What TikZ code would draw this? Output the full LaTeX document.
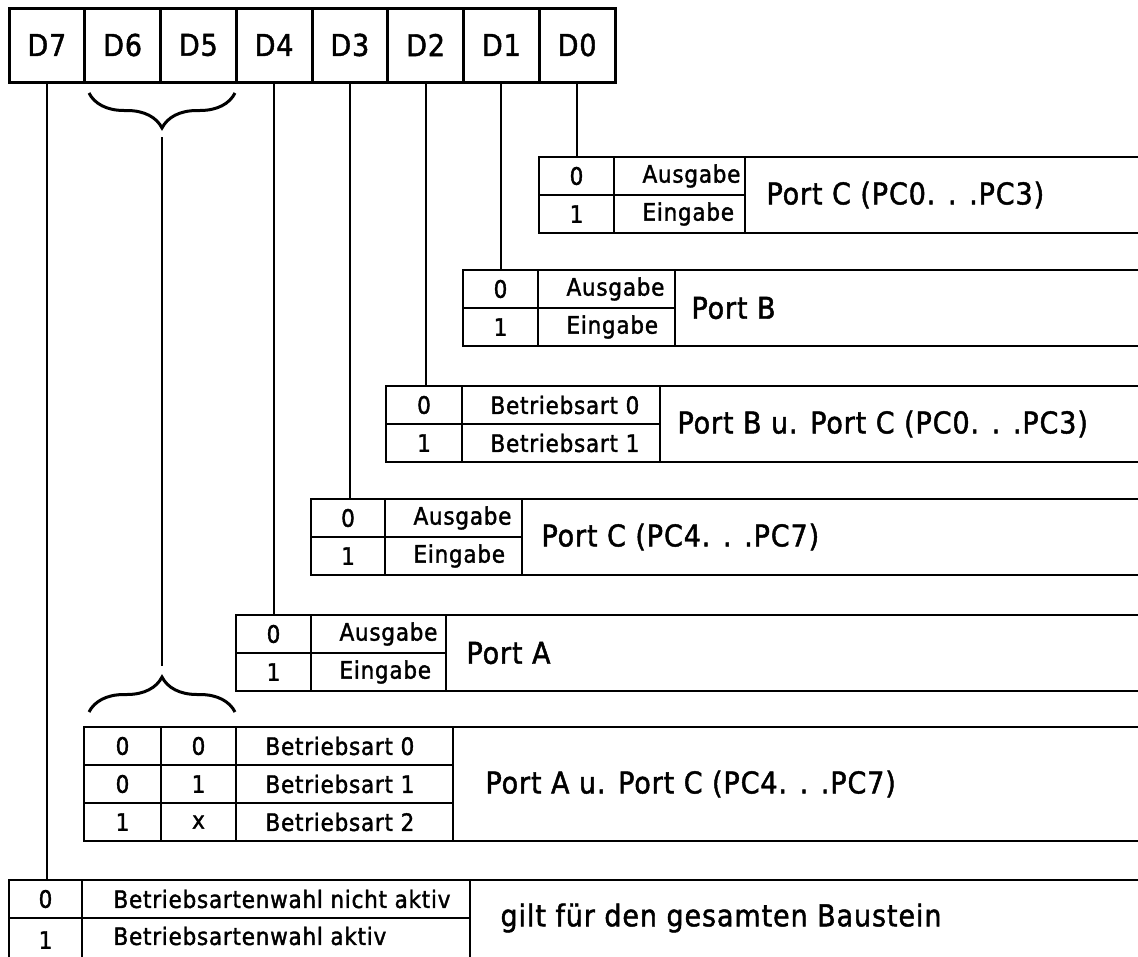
\documentclass[tikz,border=0pt]{standalone}
\usepackage{fontspec}
\setmainfont{DejaVu Sans Condensed}
\newfontfamily\dinfont{DejaVu Sans Condensed}[LetterSpace=3, FakeBold=1.5]
\usetikzlibrary{positioning, calc, decorations.pathreplacing}

\begin{document}
\begin{tikzpicture}[x=1pt, y=-1pt,
    bigtxt/.style={font=\dinfont\fontsize{30}{32}\selectfont},
    smalltxt/.style={font=\dinfont\fontsize{24}{26}\selectfont},
    bitbox/.style={draw, line width=3pt, outer sep=0pt, inner sep=0pt, minimum width=75.75pt, minimum height=74pt, anchor=north west, bigtxt},
    cell/.style={draw, line width=2.8pt, outer sep=0pt, inner sep=0pt, minimum height=38pt, anchor=north west, smalltxt},
    frame/.style={line width=2.8pt},
    wire/.style={line width=2pt},
    curly/.style={line width=3pt, decorate, decoration={brace, amplitude=35pt}}
]
  \path[use as bounding box, fill=white] (0,0) rectangle (1138,956);
  \coordinate (rim) at (1138,0);

  % Steuerwort D7 ... D0
  \foreach \b [count=\k from 0] in {7,6,5,4,3,2,1,0}{
    \node[bitbox] (d\b) at ({9+75.75*\k},8) {D\b};
  }

  % Tabellen fuer D0 ... D4
  \foreach \i/\xl/\wa/\wb/\yt/\ta/\tb/\gap/\lab in {
      0/539/75/131/157/Ausgabe/Eingabe/18/{Port C (PC0. . .PC3)},
      1/463/75/137/270/Ausgabe/Eingabe/13/{Port B},
      2/386/76/198/386/{Betriebsart 0}/{Betriebsart 1}/14/{Port B u. Port C (PC0. . .PC3)},
      3/311/74/137/499/Ausgabe/Eingabe/16/{Port C (PC4. . .PC7)},
      4/236/75/135/615/Ausgabe/Eingabe/17/{Port A}}{
    \node[cell, minimum width=\wa pt] (tab\i-0) at (\xl,\yt) {0};
    \node[cell, minimum width=\wa pt] (tab\i-1) at (tab\i-0.south west) {1};
    \node[cell, minimum width=\wb pt] (tab\i-a) at (tab\i-0.north east) {};
    \node[cell, minimum width=\wb pt] (tab\i-e) at (tab\i-1.north east) {};
    \node[smalltxt, anchor=west] (txt\i-a) at ([xshift=25pt]tab\i-a.west) {\ta};
    \node[smalltxt, anchor=west] (txt\i-e) at ([xshift=25pt]tab\i-e.west) {\tb};
    \draw[frame] (tab\i-a.north east) -- (tab\i-a.north east -| rim);
    \draw[frame] (tab\i-e.south east) -- (tab\i-e.south east -| rim);
    \node[bigtxt, anchor=west] (port\i) at ([xshift=\gap pt]tab\i-a.south east) {\lab};
    \draw[wire] (d\i.south) -- (d\i.south |- tab\i-0.north);
  }

  % Klammern fuer D6, D5
  \coordinate (ua) at (89,93);  \coordinate (ub) at (235,93);
  \coordinate (la) at (89,712); \coordinate (lb) at (235,712);
  \coordinate (ut) at (162,128); \coordinate (lt) at (162,677);
  \draw[curly, decoration={mirror}] (ua) -- (ub);
  \draw[curly] (la) -- (lb);
  \draw[wire, shorten <=9pt, shorten >=11pt] (ut) -- (lt);

  % Betriebsarten Gruppe A
  \foreach \p/\q/\r [count=\i from 0] in {0/0/0, 0/1/1, 1/x/2}{
    \node[cell, minimum width=77pt] (mod\i-a) at (84,{727+38*\i}) {\p};
    \node[cell, minimum width=75pt] (mod\i-b) at (mod\i-a.north east) {\q};
    \node[cell, minimum width=217pt] (mod\i-c) at (mod\i-b.north east) {};
    \node[smalltxt, anchor=west] (modtxt\i) at ([xshift=26pt]mod\i-c.west) {Betriebsart \r};
  }
  \draw[frame] (mod0-c.north east) -- (mod0-c.north east -| rim);
  \draw[frame] (mod2-c.south east) -- (mod2-c.south east -| rim);
  \node[bigtxt, anchor=west] (portAC) at ([xshift=29pt]mod1-c.east) {Port A u. Port C (PC4. . .PC7)};

  % Betriebsartenwahl D7
  \node[cell, minimum width=73pt] (sel0) at (9,880) {0};
  \node[cell, minimum width=73pt, minimum height=44pt] (sel1) at (sel0.south west) {1};
  \node[cell, minimum width=388pt] (sel0t) at (sel0.north east) {};
  \node[cell, minimum width=388pt, minimum height=44pt] (sel1t) at (sel1.north east) {};
  \node[smalltxt, anchor=west] (seltxt0) at ([xshift=28pt]sel0t.west) {Betriebsartenwahl nicht aktiv};
  \node[smalltxt, anchor=west] (seltxt1) at ([xshift=28pt, yshift=4pt]sel1t.west) {Betriebsartenwahl aktiv};
  \draw[frame] (sel0t.north east) -- (sel0t.north east -| rim);
  \node[bigtxt, anchor=west] (whole) at ([xshift=27pt]sel0t.south east) {gilt für den gesamten Baustein};
  \draw[wire] (d7.south) -- (d7.south |- sel0.north);
\end{tikzpicture}
\end{document}
